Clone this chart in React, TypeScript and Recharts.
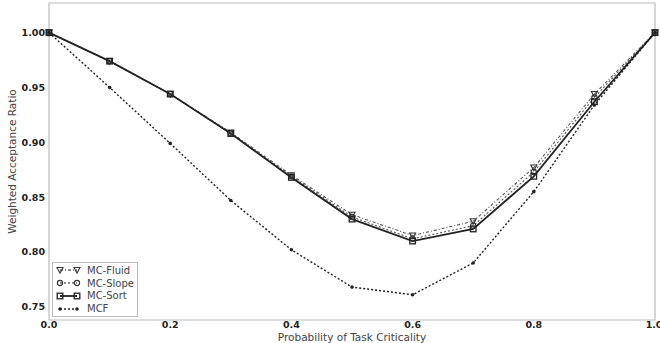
import React from 'react'
import {
  LineChart,
  Line,
  XAxis,
  YAxis,
  ReferenceArea,
} from 'recharts'

const criticality = [0, 0.1, 0.2, 0.3, 0.4, 0.5, 0.6, 0.7, 0.8, 0.9, 1.0]
const mcFluid = [1.0, 0.974, 0.944, 0.909, 0.870, 0.834, 0.815, 0.828, 0.877, 0.944, 1.0]
const mcSlope = [1.0, 0.974, 0.944, 0.908, 0.869, 0.832, 0.812, 0.824, 0.873, 0.941, 1.0]
const mcSort = [1.0, 0.974, 0.944, 0.908, 0.868, 0.830, 0.810, 0.821, 0.869, 0.937, 1.0]
const mcf = [1.0, 0.950, 0.899, 0.847, 0.802, 0.768, 0.761, 0.790, 0.855, 0.934, 1.0]

const xTicks = [0, 0.2, 0.4, 0.6, 0.8, 1.0]
const yTicks = [0.75, 0.8, 0.85, 0.9, 0.95, 1.0]
const Y_MIN = 0.738
const Y_MAX = 1.027

const data = criticality.map((p, i) => ({
  p,
  fluid: mcFluid[i],
  slope: mcSlope[i],
  sort: mcSort[i],
  mcf: mcf[i],
}))

type Shape = 'tri' | 'circle' | 'square' | 'dot'

function Marker({ cx, cy, shape }: { cx: number; cy: number; shape: Shape }) {
  if (cx == null || cy == null) return null
  if (shape === 'tri') {
    return (
      <path
        d={`M${cx - 3},${cy - 2.5} L${cx + 3},${cy - 2.5} L${cx},${cy + 3} Z`}
        fill="none"
        stroke="#333"
        strokeWidth={1.1}
      />
    )
  }
  if (shape === 'circle') {
    return <circle cx={cx} cy={cy} r={2.6} fill="none" stroke="#333" strokeWidth={1.1} />
  }
  if (shape === 'square') {
    return (
      <rect x={cx - 2.8} y={cy - 2.8} width={5.6} height={5.6} fill="none" stroke="#222" strokeWidth={1.3} />
    )
  }
  return <circle cx={cx} cy={cy} r={1.8} fill="#222" />
}

const dotFor = (shape: Shape) => (props: any) => (
  <Marker key={`${shape}-${props.index}`} cx={props.cx} cy={props.cy} shape={shape} />
)

const legendItems: { name: string; shape: Shape; dash?: string; width: number }[] = [
  { name: 'MC-Fluid', shape: 'tri', dash: '3 2 1 2', width: 1.2 },
  { name: 'MC-Slope', shape: 'circle', dash: '2 2', width: 1.2 },
  { name: 'MC-Sort', shape: 'square', width: 1.8 },
  { name: 'MCF', shape: 'dot', dash: '2 2', width: 1.4 },
]

// legend box sits over the lower-left corner of the plot
function LegendBox() {
  return (
    <div
      style={{
        position: 'absolute',
        left: 52,
        top: 262,
        border: '1px solid #bbb',
        background: '#fff',
        padding: '1px 2px 1px 3px',
        width: 79,
        fontFamily: '"DejaVu Sans", sans-serif',
        fontSize: 10,
        color: '#444',
      }}
    >
      {legendItems.map((it) => (
        <div key={it.name} style={{ display: 'flex', alignItems: 'center', height: 12.8 }}>
          <svg width={26} height={10} style={{ marginRight: 5 }}>
            <line x1={4} y1={5} x2={21} y2={5} stroke="#222" strokeWidth={it.width} strokeDasharray={it.dash} />
            <Marker cx={4} cy={5} shape={it.shape} />
            <Marker cx={21} cy={5} shape={it.shape} />
          </svg>
          <span>{it.name}</span>
        </div>
      ))}
    </div>
  )
}

const tickStyle = {
  fontFamily: '"DejaVu Sans", sans-serif',
  fontSize: 9.5,
  fontWeight: 'bold' as const,
  fill: '#222',
}

const labelStyle = { fontFamily: '"DejaVu Sans", sans-serif', fontSize: 10.5, fill: '#444' }

export default function App() {
  return (
    <div style={{ position: 'fixed', left: 0, top: 0, width: 660, height: 343, background: '#fff' }}>
      <LineChart width={660} height={343} data={data} margin={{ top: 3, right: 5, bottom: 0, left: 0 }}>
        <XAxis
          dataKey="p"
          type="number"
          domain={[0, 1]}
          ticks={xTicks}
          tickFormatter={(v) => Number(v).toFixed(1)}
          tick={tickStyle}
          tickLine={false}
          axisLine={false}
          height={23}
          tickSize={0}
          tickMargin={1}
          label={{
            value: 'Probability of Task Criticality',
            position: 'insideBottom',
            offset: 2,
            style: labelStyle,
          }}
        />
        <YAxis
          type="number"
          domain={[Y_MIN, Y_MAX]}
          ticks={yTicks}
          tickFormatter={(v) => Number(v).toFixed(2)}
          tick={tickStyle}
          tickLine={false}
          axisLine={false}
          width={49}
          tickSize={0}
          tickMargin={4}
          allowDataOverflow
          label={{
            value: 'Weighted Acceptance Ratio',
            angle: -90,
            position: 'insideLeft',
            offset: 12,
            style: { ...labelStyle, textAnchor: 'middle' },
          }}
        />
        <ReferenceArea x1={0} x2={1} y1={Y_MIN} y2={Y_MAX} fill="none" stroke="#bbb" strokeWidth={1.2} ifOverflow="visible" />
        <Line dataKey="mcf" stroke="#222" strokeWidth={1.4} strokeDasharray="2 2" dot={dotFor('dot')} isAnimationActive={false} />
        <Line dataKey="fluid" stroke="#555" strokeWidth={1.1} strokeDasharray="3 2 1 2" dot={dotFor('tri')} isAnimationActive={false} />
        <Line dataKey="slope" stroke="#555" strokeWidth={1.1} strokeDasharray="2 2" dot={dotFor('circle')} isAnimationActive={false} />
        <Line dataKey="sort" stroke="#222" strokeWidth={1.8} dot={dotFor('square')} isAnimationActive={false} />
      </LineChart>
      <LegendBox />
    </div>
  )
}
